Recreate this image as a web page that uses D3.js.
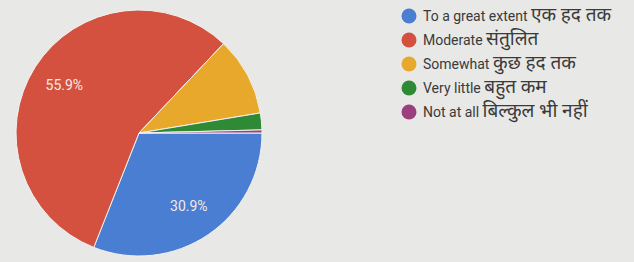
<!DOCTYPE html>
<html>
<head>
<meta charset="utf-8">
<script src="https://cdn.jsdelivr.net/npm/d3@7"></script>
<style>
  body { margin: 0; background: #e8e8e6; }
  svg { display: block; font-family: Roboto, 'Noto Sans', sans-serif; }
</style>
</head>
<body>
<svg id="chart" width="634" height="262"></svg>
<script>
var categoriesEn = ['To a great extent', 'Moderate', 'Somewhat', 'Very little', 'Not at all'];
var categoriesHi = ['एक हद तक', 'संतुलित', 'कुछ हद तक', 'बहुत कम', 'बिल्कुल भी नहीं'];
var percents = [30.9, 55.9, 10.3, 2.2, 0.4];
var colors = ['#4a7ed3', '#d4513f', '#e8a82c', '#2f8a35', '#9c3f7f'];

var svg = d3.select('#chart');
var cx = 139, cy = 133, radius = 123;

// google forms starts at 3 o'clock, clockwise
var pie = d3.pie()
            .sort(null)
            .startAngle(Math.PI / 2)
            .endAngle(Math.PI / 2 + 2 * Math.PI)
            .value(d => d);
var arc = d3.arc().innerRadius(0).outerRadius(radius);
var labelArc = d3.arc().innerRadius(radius * 0.72).outerRadius(radius * 0.72);

var g = svg.append('g').attr('transform', `translate(${cx}, ${cy})`);
var slices = pie(percents);

g.selectAll('.slice')
  .data(slices)
  .enter()
  .append('path')
    .classed('slice', true)
    .attr('d', arc)
    .attr('fill', (d, i) => colors[i])
    .attr('stroke', '#f2f2f0')
    .attr('stroke-width', 1);

// only big slices get a label
g.selectAll('.pct')
  .data(slices.filter(d => d.data > 20))
  .enter()
  .append('text')
    .classed('pct', true)
    .attr('transform', d => `translate(${labelArc.centroid(d)})`)
    .attr('text-anchor', 'middle')
    .attr('dy', '0.35em')
    .attr('fill', '#f3e9e4')
    .style('font-size', '14px')
    .text(d => d.data.toFixed(1) + '%');

var legend = svg.append('g').attr('transform', 'translate(409, 16)');
var rows = legend.selectAll('.row')
  .data(categoriesEn)
  .enter()
  .append('g')
    .classed('row', true)
    .attr('transform', (d, i) => `translate(0, ${i * 24})`);

rows.append('circle')
  .attr('r', 7.5)
  .attr('fill', (d, i) => colors[i]);

var label = rows.append('text')
  .attr('x', 14)
  .attr('dy', '0.35em')
  .attr('fill', '#3a3a3a')
  .style('font-size', '14px');
label.append('tspan').text(d => d + ' ');
label.append('tspan')
  .style('font-size', '19px')
  .text((d, i) => categoriesHi[i]);
</script>
</body>
</html>
